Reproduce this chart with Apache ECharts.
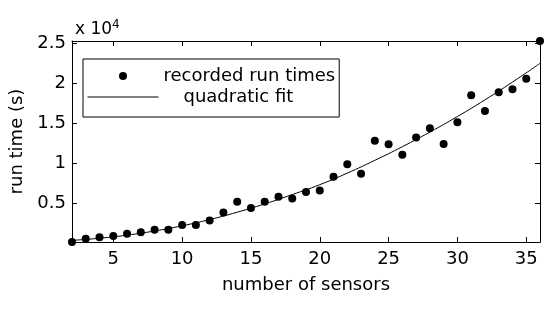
<!DOCTYPE html>
<html>
<head>
<meta charset="utf-8">
<script src="https://cdn.jsdelivr.net/npm/echarts@6/dist/echarts.min.js"></script>
<style>
  html, body { margin: 0; padding: 0; background: #fff; }
  #chart { width: 555px; height: 311px; }
</style>
</head>
<body>
<div id="chart"></div>
<script>
"use strict";

// recorded run times (s) per number of sensors
var sensors = [2, 3, 4, 5, 6, 7, 8, 9, 10, 11, 12, 13, 14, 15, 16, 17, 18, 19,
    20, 21, 22, 23, 24, 25, 26, 27, 28, 29, 30, 31, 32, 33, 34, 35, 36];
var runTimes = [125, 540, 700, 875, 1160, 1330, 1660, 1660, 2250, 2250, 2825, 3825,
    5150, 4375, 5150, 5780, 5560, 6375, 6560, 8300, 9875, 8680, 12790, 12375,
    11040, 13200, 14375, 12410, 15125, 18500, 16540, 18875, 19250, 20575, 25290];

// quadratic fit
var fitX = [2, 4, 6, 8, 10, 12, 14, 16, 18, 20, 22, 24, 26, 28, 30, 32, 34, 36];
var fitY = [325, 590, 980, 1500, 2150, 2930, 3850, 4890, 6060, 7300, 8750, 10350,
    12060, 13890, 15840, 17930, 20150, 22500];

var xTicks = [5, 10, 15, 20, 25, 30, 35];
var yTicks = [5000, 10000, 15000, 20000, 25000];

var FONT = 'DejaVu Sans';

function pairs(xs, ys) {
    var out = [];
    for (var i = 0; i < xs.length; i++) out.push([xs[i], ys[i]]);
    return out;
}

var dom = document.getElementById('chart');
var myChart = echarts.init(dom, null, { renderer: 'canvas' });

var axisLine = { show: true, lineStyle: { color: '#000', width: 1 } };

var option = {
    animation: false,
    textStyle: { fontFamily: FONT, color: '#000' },
    title: {
        text: 'x 10{sup|4}',
        left: 70,
        top: 14,
        textStyle: {
            fontFamily: FONT, fontSize: 17, fontWeight: 'normal', color: '#000',
            rich: { sup: { fontFamily: FONT, fontSize: 12, verticalAlign: 'top', padding: [0, 0, 10, 0], color: '#000' } }
        }
    },
    legend: {
        orient: 'vertical',
        left: 83,
        top: 59,
        padding: [8, 4, 11, 4],
        itemGap: 3,
        itemWidth: 71,
        itemHeight: 8,
        borderColor: '#000',
        borderWidth: 1,
        backgroundColor: '#fff',
        textStyle: { fontFamily: FONT, fontSize: 18, color: '#000' },
        data: [
            { name: 'recorded run times', itemStyle: { opacity: 1 } },
            { name: 'quadratic fit', itemStyle: { opacity: 0 }, lineStyle: { opacity: 1, width: 1 }, textStyle: { padding: [0, 0, 0, 20] } }
        ]
    },
    grid: { left: 71, right: 15, top: 41, bottom: 69 },
    xAxis: [{
        type: 'value',
        min: 2,
        max: 36,
        name: 'number of sensors',
        nameLocation: 'middle',
        nameGap: 34,
        nameTextStyle: { fontFamily: FONT, fontSize: 18, color: '#000' },
        axisLine: axisLine,
        axisTick: { show: true, inside: true, length: 5, customValues: xTicks, lineStyle: { color: '#000' } },
        axisLabel: { customValues: xTicks, margin: 8, fontFamily: FONT, fontSize: 18, color: '#000' },
        splitLine: { show: false }
    }, {
        type: 'value',
        position: 'top',
        min: 2,
        max: 36,
        axisLine: axisLine,
        axisTick: { show: true, inside: true, length: 5, customValues: xTicks, lineStyle: { color: '#000' } },
        axisLabel: { show: false },
        splitLine: { show: false }
    }],
    yAxis: [{
        type: 'value',
        min: 120,
        max: 25300,
        name: 'run time (s)',
        nameLocation: 'middle',
        nameGap: 46,
        nameTextStyle: { fontFamily: FONT, fontSize: 18, color: '#000' },
        axisLine: axisLine,
        axisTick: { show: true, inside: true, length: 5, customValues: yTicks, lineStyle: { color: '#000' } },
        axisLabel: {
            customValues: yTicks, margin: 6, fontFamily: FONT, fontSize: 18, color: '#000',
            formatter: function (v) { return String(v / 10000); }
        },
        splitLine: { show: false }
    }, {
        type: 'value',
        position: 'right',
        min: 120,
        max: 25300,
        axisLine: axisLine,
        axisTick: { show: true, inside: true, length: 5, customValues: yTicks, lineStyle: { color: '#000' } },
        axisLabel: { show: false },
        splitLine: { show: false }
    }],
    series: [
        {
            name: 'recorded run times',
            type: 'scatter',
            symbol: 'circle',
            symbolSize: 8,
            clip: false,
            itemStyle: { color: '#000', opacity: 1 },
            data: pairs(sensors, runTimes),
            z: 3
        },
        {
            name: 'quadratic fit',
            type: 'line',
            symbol: 'none',
            smooth: true,
            lineStyle: { color: '#000', width: 1 },
            itemStyle: { color: '#000' },
            data: pairs(fitX, fitY),
            z: 2
        }
    ]
};

if (option && typeof option === 'object') {
    myChart.setOption(option, true);
}
</script>
</body>
</html>
